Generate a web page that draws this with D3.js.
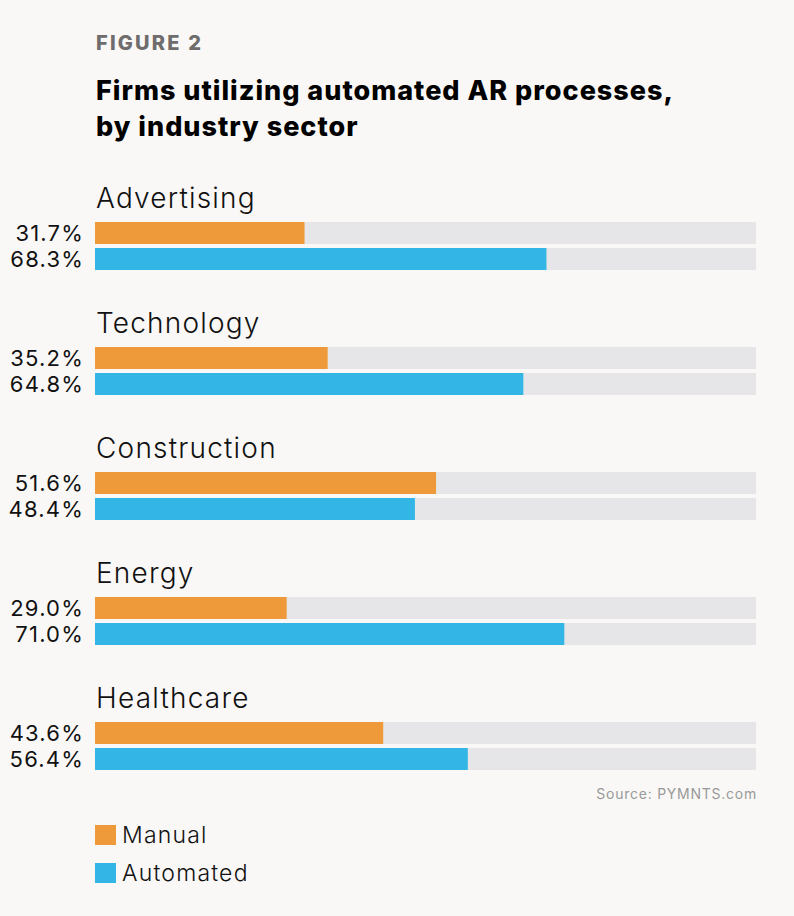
<!DOCTYPE html>
<html>
<head>
<meta charset="utf-8">
<script src="https://cdn.jsdelivr.net/npm/d3@7"></script>
<style>
  html, body { margin: 0; padding: 0; background: #f9f8f6; }
  svg text { font-family: Inter, "Open Sans", sans-serif; }
</style>
</head>
<body>
<div id="plot"></div>
<script>
// Chart data
const sectors = ["Advertising", "Technology", "Construction", "Energy", "Healthcare"];
const manual = [31.7, 35.2, 51.6, 29.0, 43.6];
const automated = [68.3, 64.8, 48.4, 71.0, 56.4];
const seriesNames = ["Manual", "Automated"];
const colors = ["#ef9a3a", "#33b6e6"];

const W = 794, H = 916;

const svg = d3.select("#plot")
    .append("svg")
    .attr("width", W)
    .attr("height", H);

svg.append("rect").attr("width", W).attr("height", H).attr("fill", "#f9f8f6");

// Header
svg.append("text")
    .attr("x", 96).attr("y", 50)
    .attr("font-size", "20px").attr("font-weight", 800)
    .attr("letter-spacing", "2.2px")
    .attr("fill", "#6e6c6c")
    .text("FIGURE 2");

const title = svg.append("text")
    .attr("font-size", "27px").attr("font-weight", 800)
    .attr("fill", "#000")
    .attr("letter-spacing", "1px");
title.append("tspan").attr("x", 96).attr("y", 100).text("Firms utilizing automated AR processes,");
title.append("tspan").attr("x", 96).attr("y", 136).text("by industry sector");

// Scales
const x = d3.scaleLinear().domain([0, 100]).range([95, 756]);
const y = d3.scaleBand().domain(sectors).range([185, 810]);
const barH = 22, barGap = 4, barTop = 37;

const groups = svg.selectAll("g.sector")
    .data(sectors.map((s, i) => ({ sector: s, values: [manual[i], automated[i]] })))
    .join("g")
    .attr("class", "sector")
    .attr("transform", d => `translate(0,${y(d.sector)})`);

groups.append("text")
    .attr("x", 96).attr("y", 23)
    .attr("font-size", "28px").attr("font-weight", 300)
    .attr("letter-spacing", "1.2px")
    .attr("fill", "#111")
    .text(d => d.sector);

groups.each(function(d) {
    const g = d3.select(this);
    d.values.forEach((v, j) => {
        const yy = barTop + j * (barH + barGap);
        g.append("rect")
            .attr("x", x(0)).attr("y", yy)
            .attr("width", x(100) - x(0)).attr("height", barH)
            .attr("fill", "#e6e6e8");
        g.append("rect")
            .attr("x", x(0)).attr("y", yy)
            .attr("width", x(v) - x(0)).attr("height", barH)
            .attr("fill", colors[j]);
        g.append("text")
            .attr("x", 84).attr("y", yy + barH / 2 + 8)
            .attr("text-anchor", "end")
            .attr("font-size", "22px").attr("font-weight", 400)
            .attr("letter-spacing", "1.2px")
            .attr("fill", "#111")
            .text(v.toFixed(1) + "%");
    });
});

// Source
svg.append("text")
    .attr("x", 757).attr("y", 799)
    .attr("text-anchor", "end")
    .attr("font-size", "14px")
    .attr("letter-spacing", "0.75px")
    .attr("fill", "#9a9a9a")
    .text("Source: PYMNTS.com");

// Legend
const legend = svg.selectAll("g.legend")
    .data(seriesNames)
    .join("g")
    .attr("class", "legend")
    .attr("transform", (d, i) => `translate(95,${825 + i * 38})`);

legend.append("rect")
    .attr("width", 21).attr("height", 20)
    .attr("fill", (d, i) => colors[i]);

legend.append("text")
    .attr("x", 27).attr("y", 18)
    .attr("font-size", "23px").attr("font-weight", 300)
    .attr("letter-spacing", "1.2px")
    .attr("fill", "#111")
    .text(d => d);
</script>
</body>
</html>
